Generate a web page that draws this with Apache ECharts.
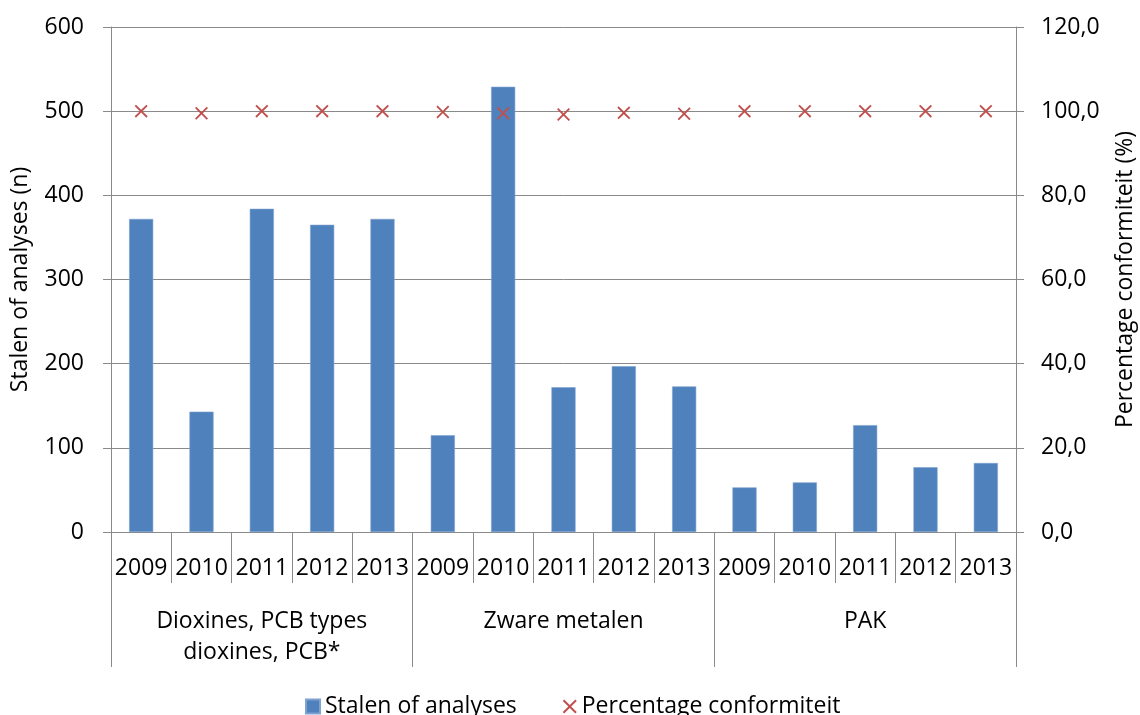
<!DOCTYPE html>
<html>
<head>
<meta charset="utf-8">
<script src="https://cdn.jsdelivr.net/npm/echarts@6/dist/echarts.min.js"></script>
<style>
html,body{margin:0;padding:0;background:#fff;}
#chart{width:1140px;height:715px;}
</style>
</head>
<body>
<div id="chart"></div>
<script>
const years = ['2009','2010','2011','2012','2013','2009','2010','2011','2012','2013','2009','2010','2011','2012','2013'];
const groups = ['Dioxines, PCB types\ndioxines, PCB*', 'Zware metalen', 'PAK'];
const stalen = [372, 143, 384, 365, 372, 115, 529, 172, 197, 173, 53, 59, 127, 77, 82];
const conformiteit = [100, 99.5, 100, 100, 100, 99.8, 99.5, 99.2, 99.6, 99.4, 100, 100, 100, 100, 100];
const leftTicks = [0, 600, 100];
const rightTicks = [0, 120, 20];

const FONT = '"Open Sans", sans-serif';
const FS = 23;
const GRAY = '#8a8a8a';
const chart = echarts.init(document.getElementById('chart'), null, {renderer: 'canvas'});
const xMark = 'path://M0,1L1,0L5,4L9,0L10,1L6,5L10,9L9,10L5,6L1,10L0,9L4,5Z';

chart.setOption({
  animation: false,
  textStyle: {fontFamily: FONT, color: '#000'},
  grid: {left: 111, right: 124, top: 27, bottom: 183, containLabel: false, outerBoundsMode: 'none'},
  legend: {
    top: 695, left: 305, padding: 0, itemGap: 46, itemWidth: 14, itemHeight: 14,
    textStyle: {fontSize: FS, fontFamily: FONT, color: '#000'},
    data: [
      {name: 'Stalen of analyses', icon: 'rect'},
      {name: 'Percentage conformiteit', icon: xMark}
    ]
  },
  xAxis: [
    {
      type: 'category', data: years, position: 'bottom',
      axisLine: {show: true, lineStyle: {color: GRAY, width: 1}},
      axisTick: {show: true, interval: 0, length: 51, lineStyle: {color: GRAY}},
      axisLabel: {interval: 0, fontSize: FS, margin: 25, color: '#000', fontFamily: FONT}
    },
    {
      type: 'category', data: groups, position: 'bottom',
      axisLine: {show: false},
      axisTick: {show: true, interval: 0, length: 135, lineStyle: {color: GRAY}},
      axisLabel: {interval: 0, fontSize: FS, margin: 74, lineHeight: 31, color: '#000', fontFamily: FONT}
    }
  ],
  yAxis: [
    {
      type: 'value', min: leftTicks[0], max: leftTicks[1], interval: leftTicks[2],
      name: 'Stalen of analyses (n)', nameLocation: 'middle', nameGap: 79,
      nameTextStyle: {fontSize: FS, color: '#000', fontFamily: FONT},
      axisLine: {show: true, lineStyle: {color: GRAY}},
      axisTick: {show: true, length: 8, lineStyle: {color: GRAY}},
      axisLabel: {fontSize: FS, margin: 27, color: '#000', fontFamily: FONT},
      splitLine: {show: true, lineStyle: {color: GRAY, width: 1}}
    },
    {
      type: 'value', min: rightTicks[0], max: rightTicks[1], interval: rightTicks[2], position: 'right',
      name: 'Percentage conformiteit (%)', nameLocation: 'middle', nameGap: 98,
      nameTextStyle: {fontSize: FS, color: '#000', fontFamily: FONT},
      axisLine: {show: true, lineStyle: {color: GRAY}},
      axisTick: {show: true, length: 8, lineStyle: {color: GRAY}},
      axisLabel: {fontSize: FS, margin: 25, color: '#000', fontFamily: FONT,
        formatter: v => v.toFixed(1).replace('.', ',')},
      splitLine: {show: false}
    }
  ],
  series: [
    {
      name: 'Stalen of analyses', type: 'bar', xAxisIndex: 0, yAxisIndex: 0,
      data: stalen, barWidth: '40%',
      itemStyle: {color: '#4F81BD', borderColor: '#7FA2D0', borderWidth: 0.6}
    },
    {
      name: 'Percentage conformiteit', type: 'scatter', xAxisIndex: 0, yAxisIndex: 1,
      data: conformiteit, symbol: xMark, symbolSize: 13,
      itemStyle: {color: '#C0504D', opacity: 1}
    }
  ]
});
</script>
</body>
</html>
